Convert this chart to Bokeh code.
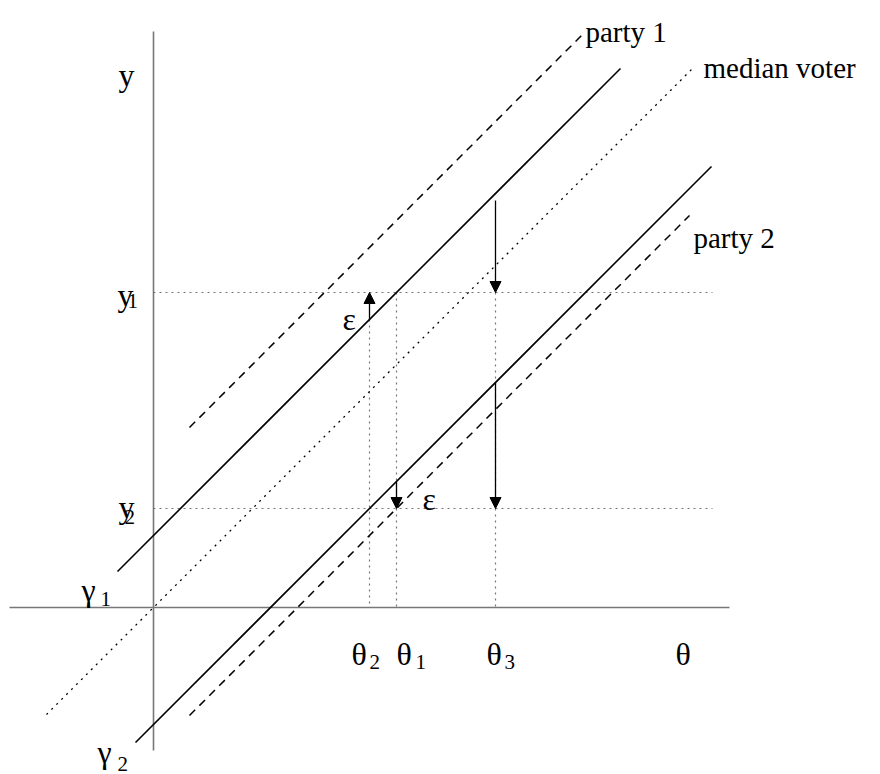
from bokeh.plotting import figure
from bokeh.models import ColumnDataSource, Arrow, NormalHead
from bokeh.core.properties import value
from bokeh.embed import file_html
from bokeh.resources import INLINE

# ---- data (diagram coordinates, origin at the axes crossing) ----
# axes
axis_x0 = [-144, 0]
axis_y0 = [0, -143]
axis_x1 = [576, 0]
axis_y1 = [0, 576]

# party lines (solid = gamma lines), dashed = party lines shifted by epsilon
solid_x0 = [-36, -18]
solid_y0 = [36, -135]
solid_x1 = [467, 558]
solid_y1 = [539, 441]

dashed_x0 = [36, 36]
dashed_y0 = [180, -108]
dashed_x1 = [430, 536]
dashed_y1 = [574, 392]

median_x0 = [-107]
median_y0 = [-107]
median_x1 = [540]
median_y1 = [540]

# guide levels
y_levels = [315, 99]          # y1, y2
y_guide_end = [559, 559]
theta_levels = [216, 243, 342]  # theta2, theta1, theta3
theta_guide_top = [288, 315, 315]

# arrows
arrow_x = [216, 243, 342, 342]
arrow_from = [288, 126, 407, 225]
arrow_to = [315, 99, 315, 99]

# labels
main_text = ["y", "y", "y", "γ", "γ", "θ", "θ", "θ", "θ", "ε", "ε"]
main_x = [-35, -36, -35, -72, -56, 198, 243, 333, 522, 189, 269]
main_y = [533, 313, 101, 18, -144, -46, -46, -46, -46, 289, 109]

sub_text = ["1", "2", "1", "2", "2", "1", "3"]
sub_x = [-26, -29, -53, -36, 216, 262, 351]
sub_y = [307, 91, 9, -156, -54, -54, -54]

party_text = ["party 1", "median voter", "party 2"]
party_x = [432, 550, 540]
party_y = [576, 540, 370]

# ---- figure ----
p = figure(width=880, height=774, x_range=(-153, 727), y_range=(-167, 607),
           output_backend="svg", toolbar_location=None,
           x_axis_type=None, y_axis_type=None, min_border=0,
           outline_line_color=None, background_fill_color="white",
           border_fill_color="white")

# axes
p.segment(x0=axis_x0, y0=axis_y0, x1=axis_x1, y1=axis_y1,
          line_color="#777777", line_width=1.6)

# guide dotted lines
p.segment(x0=[0] * len(y_levels), y0=y_levels, x1=y_guide_end, y1=y_levels,
          line_color="#777777", line_width=1.2, line_dash="2 4")
p.segment(x0=theta_levels, y0=theta_guide_top, x1=theta_levels, y1=[0] * len(theta_levels),
          line_color="#777777", line_width=1.2, line_dash="2 4")

# median voter
p.segment(x0=median_x0, y0=median_y0, x1=median_x1, y1=median_y1,
          line_color="black", line_width=1.3, line_dash="2 5")

# solid lines
p.segment(x0=solid_x0, y0=solid_y0, x1=solid_x1, y1=solid_y1,
          line_color="black", line_width=1.6)

# dashed lines
p.segment(x0=dashed_x0, y0=dashed_y0, x1=dashed_x1, y1=dashed_y1,
          line_color="black", line_width=1.5, line_dash="8 6")

# arrows
asrc = ColumnDataSource(dict(x=arrow_x, y0=arrow_from, y1=arrow_to))
p.add_layout(Arrow(x_start="x", y_start="y0", x_end="x", y_end="y1", source=asrc,
                   line_color="black", line_width=1.3,
                   end=NormalHead(size=11, fill_color="black", line_color="black",
                                  line_width=1)))

font = value("Liberation Serif")
p.text(x=main_x, y=main_y, text=main_text, text_font=font,
       text_font_size=value("32px"), text_align="left", text_baseline="alphabetic",
       text_color="black")
p.text(x=sub_x, y=sub_y, text=sub_text, text_font=font,
       text_font_size=value("21px"), text_align="left", text_baseline="alphabetic",
       text_color="black")
p.text(x=party_x, y=party_y, text=party_text, text_font=font,
       text_font_size=value("29px"), text_align="left", text_baseline="alphabetic",
       text_color="black")

open("out.html", "w").write(file_html(p, INLINE))
